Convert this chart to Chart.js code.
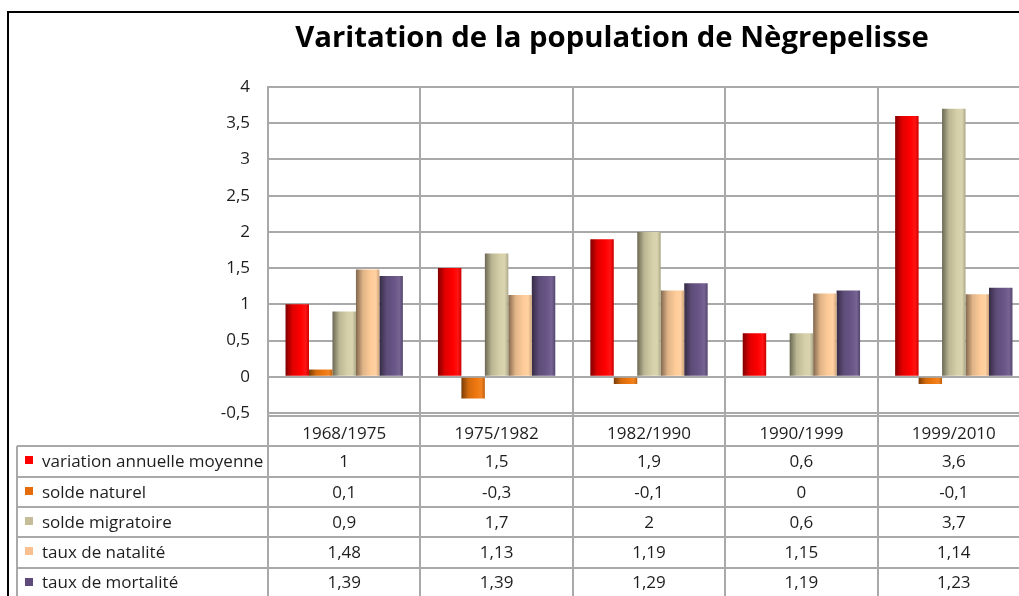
<!DOCTYPE html>
<html lang="fr">
<head>
<meta charset="utf-8">
<title>Varitation de la population de Nègrepelisse</title>
<script src="https://cdn.jsdelivr.net/npm/chart.js@4.4.1/dist/chart.umd.min.js"></script>
<style>
  html, body { margin: 0; padding: 0; background: #fff; overflow: hidden; }
  #frame { position: absolute; left: 7px; top: 11px; width: 1400px; height: 700px;
           border-top: 2px solid #000; border-left: 2px solid #000; }
  #wrap { position: absolute; left: 0; top: 0; width: 1224px; height: 596px; }
</style>
</head>
<body>
<div id="frame"></div>
<div id="wrap"><canvas id="chart" width="1224" height="596"></canvas></div>
<script>
// data
const chartTitle = 'Varitation de la population de Nègrepelisse';
const periods = ['1968/1975', '1975/1982', '1982/1990', '1990/1999', '1999/2010'];
const seriesNames = ['variation annuelle moyenne', 'solde naturel', 'solde migratoire', 'taux de natalité', 'taux de mortalité'];
const variationAnnuelle = [1, 1.5, 1.9, 0.6, 3.6];
const soldeNaturel = [0.1, -0.3, -0.1, 0, -0.1];
const soldeMigratoire = [0.9, 1.7, 2, 0.6, 3.7];
const tauxNatalite = [1.48, 1.13, 1.19, 1.15, 1.14];
const tauxMortalite = [1.39, 1.39, 1.29, 1.19, 1.23];
const yTicks = [-0.5, 0, 0.5, 1, 1.5, 2, 2.5, 3, 3.5, 4];

// styles
const barColors = ['#ff0000', '#f0780f', '#d6d0a8', '#ffcc99', '#6a5688'];
const swatchColors = ['#ff0000', '#e46c0a', '#c4bd97', '#fac090', '#604a7b'];
const gridColor = '#a9a9a9';
const textColor = '#1e1e1e';

const fr = v => String(v).replace('.', ',');

function shade(hex, f) {
  const n = parseInt(hex.slice(1), 16);
  const t = f < 0 ? 0 : 255, p = Math.abs(f);
  const c = [n >> 16, (n >> 8) & 255, n & 255].map(v => Math.round(v + (t - v) * p));
  return 'rgb(' + c.join(',') + ')';
}

// cylinder-like shading on each bar
const barShading = {
  id: 'barShading',
  beforeDatasetsDraw(chart) {
    const ctx = chart.ctx;
    chart.data.datasets.forEach((ds, i) => {
      const base = barColors[i];
      chart.getDatasetMeta(i).data.forEach(bar => {
        const x0 = bar.x - bar.width / 2, x1 = bar.x + bar.width / 2;
        const g = ctx.createLinearGradient(x0, 0, x1, 0);
        g.addColorStop(0, shade(base, -0.5));
        g.addColorStop(0.3, shade(base, -0.12));
        g.addColorStop(0.65, base);
        g.addColorStop(0.85, shade(base, 0.08));
        g.addColorStop(1, shade(base, -0.2));
        bar.options.backgroundColor = g;
      });
    });
  }
};

// title centred on the whole chart object (wider than the window)
const chartHeading = {
  id: 'chartHeading',
  afterDraw(chart) {
    const ctx = chart.ctx;
    ctx.save();
    ctx.font = 'bold 29.3px "Open Sans"';
    ctx.fillStyle = '#000';
    ctx.textAlign = 'center';
    ctx.textBaseline = 'middle';
    ctx.fillText(chartTitle, chart.width / 2, 38.5);
    ctx.restore();
  }
};

// data table under the plot
const dataTable = {
  id: 'dataTable',
  afterDraw(chart) {
    const { ctx, chartArea: area, scales: { x } } = chart;
    const colW = (area.right - area.left) / periods.length;
    const top = area.bottom + 3;
    const rowH = 30.3;
    const left = 17;
    const datasets = chart.data.datasets;
    const bottom = top + rowH * (datasets.length + 1);
    ctx.save();
    ctx.strokeStyle = gridColor;
    ctx.lineWidth = 2;
    ctx.beginPath();
    ctx.moveTo(area.left, top); ctx.lineTo(area.right, top);
    for (let r = 1; r <= datasets.length + 1; r++) {
      const y = Math.round(top + rowH * r);
      ctx.moveTo(left, y); ctx.lineTo(area.right, y);
    }
    for (let i = 0; i <= periods.length; i++) {
      const xx = Math.round(area.left + colW * i);
      ctx.moveTo(xx, area.bottom); ctx.lineTo(xx, bottom);
    }
    ctx.moveTo(left, Math.round(top + rowH)); ctx.lineTo(left, bottom);
    ctx.stroke();

    ctx.font = '17px "Open Sans"';
    ctx.textBaseline = 'middle';
    ctx.fillStyle = textColor;
    ctx.textAlign = 'center';
    periods.forEach((p, i) => ctx.fillText(p, x.getPixelForValue(i), top + rowH / 2 + 3));
    datasets.forEach((ds, r) => {
      const cy = top + rowH * (r + 1) + rowH / 2 + 1;
      ctx.fillStyle = swatchColors[r];
      ctx.fillRect(25, Math.round(cy - 6), 8, 8);
      ctx.fillStyle = textColor;
      ctx.textAlign = 'left';
      ctx.fillText(ds.label, 42, cy);
      ctx.textAlign = 'center';
      ds.data.forEach((v, i) => ctx.fillText(fr(v), x.getPixelForValue(i), cy));
    });
    ctx.restore();
  }
};

Chart.defaults.font.family = '"Open Sans", sans-serif';
Chart.defaults.color = textColor;

const values = [variationAnnuelle, soldeNaturel, soldeMigratoire, tauxNatalite, tauxMortalite];

new Chart(document.getElementById('chart').getContext('2d'), {
  type: 'bar',
  data: {
    labels: periods,
    datasets: values.map((d, i) => ({
      label: seriesNames[i],
      data: d,
      backgroundColor: () => barColors[i],
      borderWidth: 0,
      categoryPercentage: 0.77,
      barPercentage: 1
    }))
  },
  options: {
    responsive: false,
    animation: false,
    layout: { padding: { left: 0, right: 194, top: 87, bottom: 183 } },
    plugins: {
      legend: { display: false },
      tooltip: { enabled: false },
      title: { display: false }
    },
    scales: {
      x: {
        grid: { offset: true, color: gridColor, lineWidth: 2, drawTicks: false },
        border: { color: gridColor, width: 2 },
        ticks: { display: false }
      },
      y: {
        min: -0.5,
        max: 4,
        afterBuildTicks: s => { s.ticks = yTicks.map(v => ({ value: v })); },
        afterFit: s => { s.width = 268; },
        grid: { color: gridColor, lineWidth: 2, drawTicks: false },
        border: { color: gridColor, width: 2 },
        ticks: { padding: 18, font: { size: 17 }, color: textColor, callback: v => fr(v) }
      }
    }
  },
  plugins: [barShading, chartHeading, dataTable]
});
</script>
</body>
</html>
